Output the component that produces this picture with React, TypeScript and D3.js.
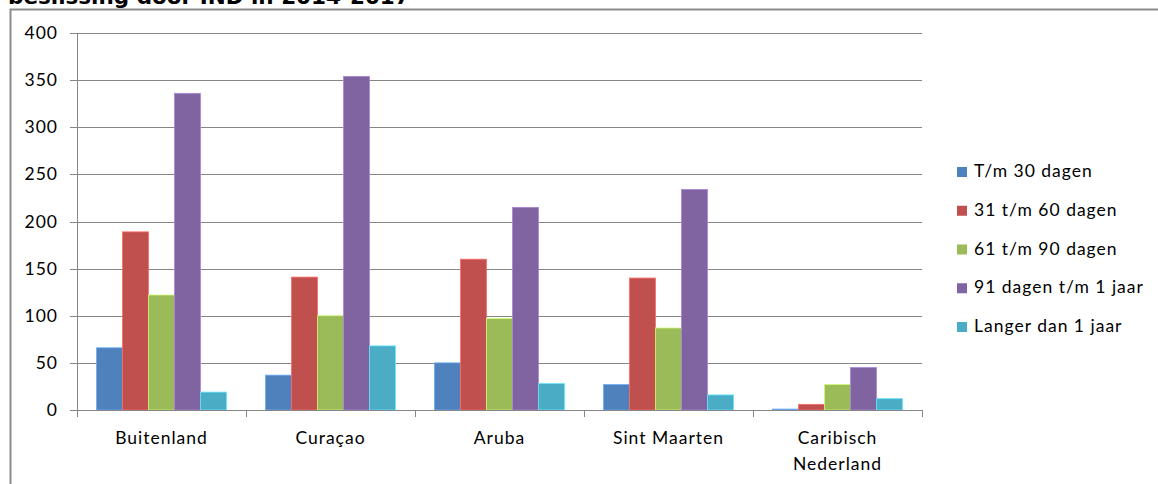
import React, { useEffect, useRef } from 'react';
import * as d3 from 'd3';

const categories = ['Buitenland', 'Curaçao', 'Aruba', 'Sint Maarten', 'Caribisch\nNederland'];
const seriesNames = ['T/m 30 dagen', '31 t/m 60 dagen', '61 t/m 90 dagen', '91 dagen t/m 1 jaar', 'Langer dan 1 jaar'];
const seriesColors = ['#4F81BD', '#C0504D', '#9BBB59', '#8064A2', '#4BACC6'];

// one array per series, in category order
const tm30 = [66, 37, 50, 27, 1];
const d31to60 = [189, 141, 160, 140, 6];
const d61to90 = [122, 100, 97, 87, 27];
const d91to1y = [336, 354, 215, 234, 45];
const longer1y = [19, 68, 28, 16, 12];
const seriesValues = [tm30, d31to60, d61to90, d91to1y, longer1y];

const yTicks = [0, 50, 100, 150, 200, 250, 300, 350, 400];
const title = 'beslissing door IND in 2014-2017';

const W = 1158;
const H = 484;

const App: React.FC = () => {
  const svgRef = useRef<SVGSVGElement>(null);

  useEffect(() => {
    if (!svgRef.current) return;
    const svg = d3.select(svgRef.current);
    svg.selectAll('*').remove();

    const plot = { left: 77, right: 922, top: 33, bottom: 410 };
    const font = 'Lato, "Noto Sans", sans-serif';
    const fontSize = 17.5;
    const spacing = 1; // source font runs wider than Lato
    const gridColor = '#868686';

    // title (cut off at the top, as in the source)
    svg.append('text')
      .attr('x', 8)
      .attr('y', 4)
      .attr('font-family', '"DejaVu Sans", Verdana, sans-serif')
      .attr('font-weight', 'bold')
      .attr('font-size', 21.5)
      .attr('fill', '#000')
      .text(title);

    // outer frame
    svg.append('path')
      .attr('d', `M${W + 2},9.5 L10.5,9.5 L10.5,${H + 2}`)
      .attr('fill', 'none')
      .attr('stroke', '#8c8c8c')
      .attr('stroke-width', 2);

    const x = d3.scaleBand<string>()
      .domain(categories)
      .range([plot.left, plot.right])
      .padding(0);

    const xInner = d3.scaleBand<string>()
      .domain(seriesNames)
      .range([0, x.bandwidth()])
      .paddingInner(0)
      .paddingOuter(0.75);

    const y = d3.scaleLinear()
      .domain([0, 400])
      .range([plot.bottom, plot.top]);

    // gridlines
    svg.append('g')
      .selectAll('line')
      .data(yTicks)
      .enter()
      .append('line')
      .attr('x1', plot.left - 7)
      .attr('x2', plot.right)
      .attr('y1', d => Math.round(y(d)) + 0.5)
      .attr('y2', d => Math.round(y(d)) + 0.5)
      .attr('stroke', gridColor)
      .attr('stroke-width', 1);

    // y tick labels
    svg.append('g')
      .selectAll('text')
      .data(yTicks)
      .enter()
      .append('text')
      .attr('x', 58)
      .attr('y', d => y(d) + 6)
      .attr('text-anchor', 'end')
      .attr('font-family', font)
      .attr('font-size', fontSize)
      .attr('letter-spacing', spacing)
      .attr('fill', '#000')
      .text(d => d);

    // y axis line
    svg.append('line')
      .attr('x1', plot.left + 0.5)
      .attr('x2', plot.left + 0.5)
      .attr('y1', plot.top)
      .attr('y2', plot.bottom)
      .attr('stroke', gridColor);

    // bars
    const groups = svg.append('g')
      .selectAll('g')
      .data(categories)
      .enter()
      .append('g')
      .attr('transform', d => `translate(${x(d)},0)`);

    groups.selectAll('rect')
      .data((_, ci) => seriesNames.map((s, si) => ({ s, si, v: seriesValues[si][ci] })))
      .enter()
      .append('rect')
      .attr('x', d => xInner(d.s) || 0)
      .attr('y', d => y(d.v))
      .attr('width', xInner.bandwidth())
      .attr('height', d => plot.bottom - y(d.v))
      .attr('fill', d => seriesColors[d.si])
      .attr('stroke', d => d3.color(seriesColors[d.si])!.brighter(0.8).formatHex())
      .attr('stroke-width', 0.8);

    // x axis line + ticks
    svg.append('line')
      .attr('x1', plot.left)
      .attr('x2', plot.right)
      .attr('y1', plot.bottom + 0.5)
      .attr('y2', plot.bottom + 0.5)
      .attr('stroke', gridColor);

    const xEdges = categories.map(c => x(c) || 0).concat([plot.right]);
    svg.append('g')
      .selectAll('line')
      .data(xEdges)
      .enter()
      .append('line')
      .attr('x1', d => Math.round(d) + 0.5)
      .attr('x2', d => Math.round(d) + 0.5)
      .attr('y1', plot.bottom)
      .attr('y2', plot.bottom + 7)
      .attr('stroke', gridColor);

    // category labels
    const labels = svg.append('g')
      .selectAll('text')
      .data(categories)
      .enter()
      .append('text')
      .attr('x', d => (x(d) || 0) + x.bandwidth() / 2)
      .attr('y', 444)
      .attr('text-anchor', 'middle')
      .attr('font-family', font)
      .attr('font-size', fontSize)
      .attr('letter-spacing', spacing)
      .attr('fill', '#000');

    labels.each(function (d) {
      const parts = d.split('\n');
      const t = d3.select(this);
      parts.forEach((p, i) => {
        t.append('tspan')
          .attr('x', (x(d) || 0) + x.bandwidth() / 2)
          .attr('dy', i === 0 ? 0 : 26)
          .text(p);
      });
    });

    // legend
    const legendY = d3.scalePoint<string>()
      .domain(seriesNames)
      .range([177, 332]);

    const legend = svg.append('g')
      .selectAll('g')
      .data(seriesNames)
      .enter()
      .append('g')
      .attr('transform', d => `translate(0,${legendY(d)})`);

    legend.append('rect')
      .attr('x', 957)
      .attr('y', -10)
      .attr('width', 10)
      .attr('height', 10)
      .attr('fill', (_, i) => seriesColors[i]);

    legend.append('text')
      .attr('x', 974)
      .attr('y', 0)
      .attr('font-family', font)
      .attr('font-size', fontSize)
      .attr('letter-spacing', spacing)
      .attr('fill', '#000')
      .text(d => d);
  }, []);

  return (
    <div style={{ position: 'absolute', left: 0, top: 0 }}>
      <svg ref={svgRef} width={W} height={H} style={{ display: 'block', background: '#fff' }}></svg>
    </div>
  );
};

export default App;
